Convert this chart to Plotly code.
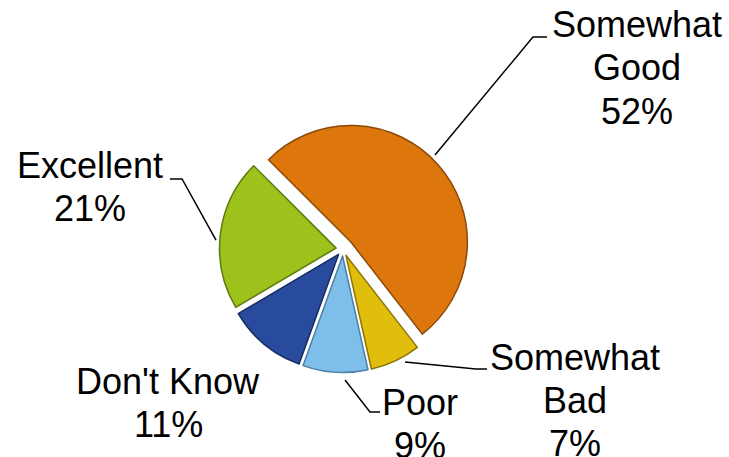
import plotly.graph_objects as go

# Survey answers, listed clockwise starting from the large orange slice
categories = ["Somewhat Good", "Somewhat Bad", "Poor", "Don't Know", "Excellent"]
percent = [52, 7, 9, 11, 21]

# Label text split across lines
label_lines = [["Somewhat", "Good"], ["Somewhat", "Bad"], ["Poor"], ["Don't Know"], ["Excellent"]]

colors = ["#DE760E", "#E2BE0C", "#7DBFE9", "#294B9E", "#9CC21B"]
edge_colors = ["#8A4A08", "#8C7607", "#4B7FA6", "#162C62", "#5E7810"]
pulls = [0.09, 0.06, 0.06, 0.06, 0.06]

W, H = 729, 457
LINE_GAP = 43  # pixels between label lines

# Label centre x and first-line centre y, in pixels from the top-left
label_pos = [(637, 25), (575, 357), (420, 402), (168, 381), (90, 165)]
leaders = [
    [(435, 155), (533, 37), (547, 37)],
    [(405, 362), (476, 369), (487, 369)],
    [(345, 380), (370, 412), (380, 412)],
    None,
    [(170, 179), (182, 179), (216, 240)],
]


def px(x, y):
    return x / W, 1 - y / H


fig = go.Figure(
    go.Pie(
        labels=categories,
        values=percent,
        sort=False,
        direction="clockwise",
        rotation=-45,
        pull=pulls,
        marker=dict(colors=colors, line=dict(color=edge_colors, width=1.5)),
        textinfo="none",
        hoverinfo="label+percent",
        showlegend=False,
        domain=dict(x=[216 / W, 470 / W], y=[79 / H, 337 / H]),
    )
)

font = dict(family="Liberation Sans, Arial, sans-serif", size=36, color="#000000")

annotations = []
for lines, val, (cx, cy) in zip(label_lines, percent, label_pos):
    for i, line in enumerate(lines + [f"{val}%"]):
        x, y = px(cx, cy + i * LINE_GAP)
        annotations.append(
            dict(
                x=x, y=y, xref="paper", yref="paper",
                text=line,
                showarrow=False, xanchor="center", yanchor="middle",
                align="center", font=font,
            )
        )

shapes = []
for route in leaders:
    if route is None:
        continue
    pts = [px(x, y) for x, y in route]
    path = "M " + " L ".join(f"{x:.4f},{y:.4f}" for x, y in pts)
    shapes.append(
        dict(type="path", path=path, xref="paper", yref="paper",
             line=dict(color="#000000", width=1.5))
    )

fig.update_layout(
    width=W, height=H,
    margin=dict(l=0, r=0, t=0, b=0),
    paper_bgcolor="#FFFFFF",
    plot_bgcolor="#FFFFFF",
    annotations=annotations,
    shapes=shapes,
)

fig.write_html("out.html")
